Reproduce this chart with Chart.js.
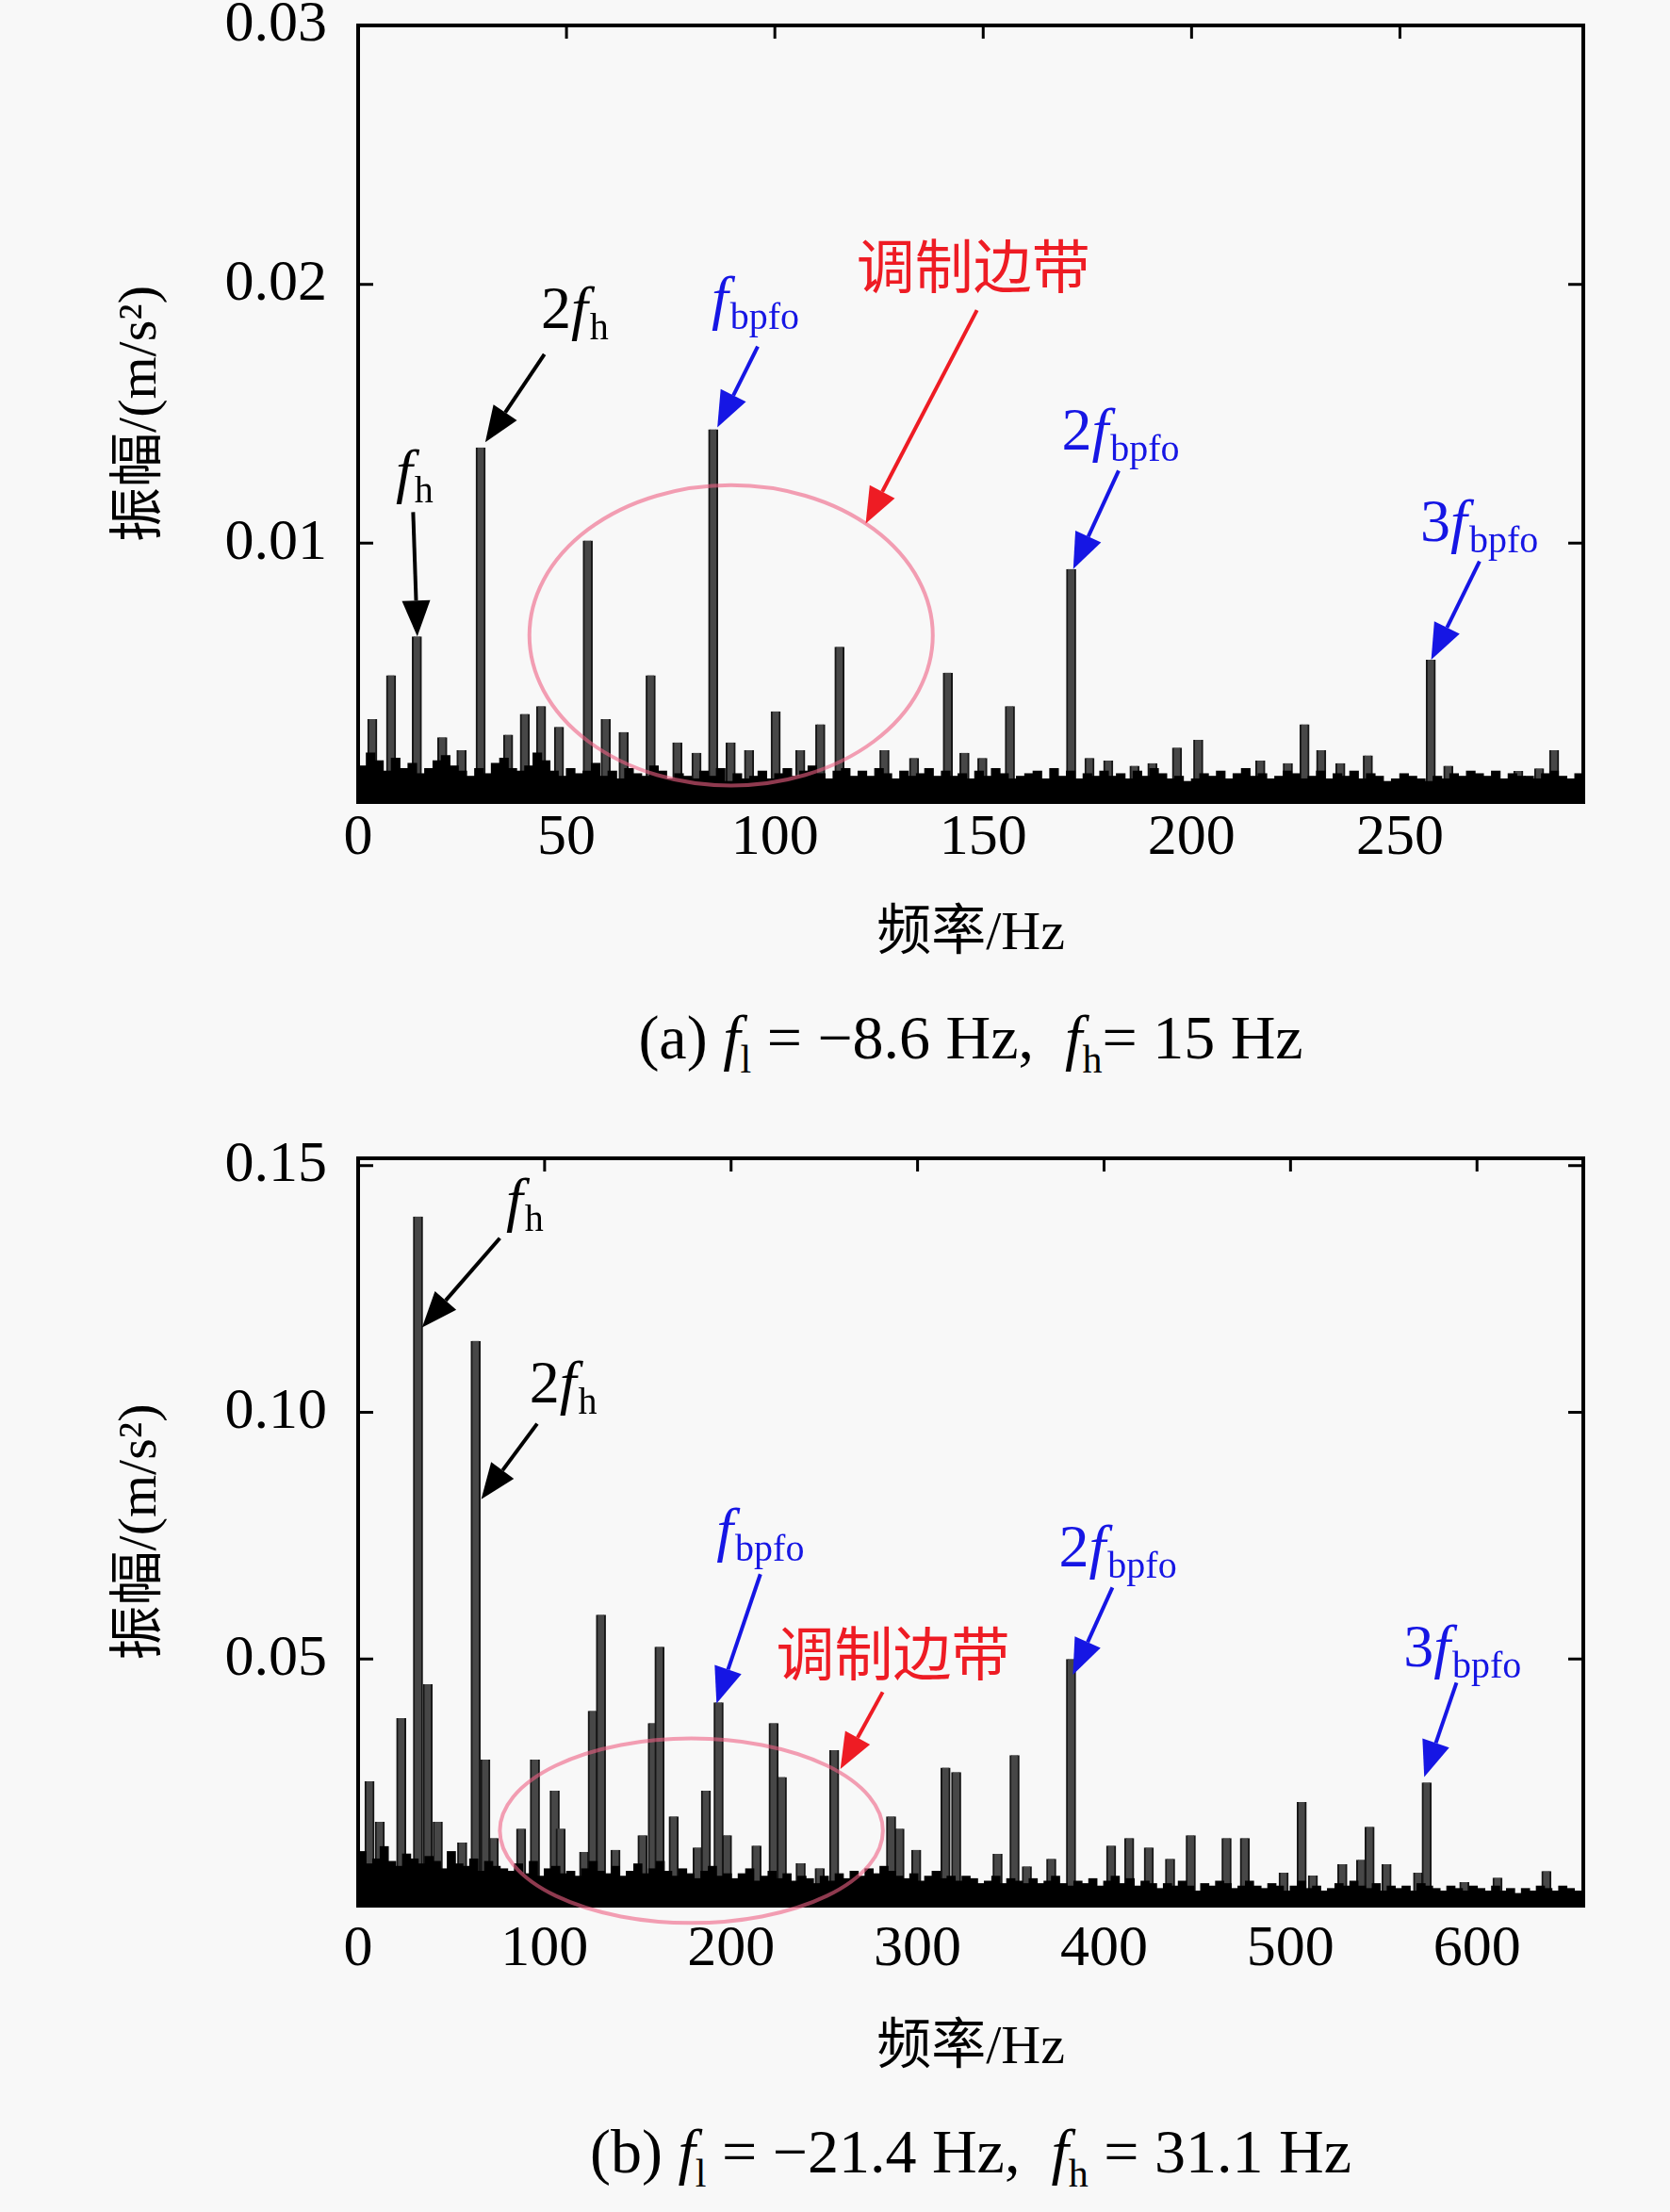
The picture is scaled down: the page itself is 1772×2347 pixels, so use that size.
<!DOCTYPE html>
<html>
<head>
<meta charset="utf-8">
<script src="https://cdn.jsdelivr.net/npm/chart.js@4.4.1/dist/chart.umd.min.js"></script>
<style>
  html, body { margin: 0; padding: 0; background: #f8f8f8; }
  body { width: 1772px; height: 2347px; position: relative; overflow: hidden; }
  canvas { position: absolute; left: 0; }
  .cap { position: absolute; left: 280px; width: 1500px; text-align: center;
         font-family: 'Liberation Serif', serif; font-size: 66px; line-height: 66px; color: #000; white-space: nowrap; }
  .cap .sb { font-size: 42px; position: relative; top: 15px; }
</style>
</head>
<body>
<canvas id="chartA" width="1772" height="1040" style="top:0;width:1772px;height:1040px"></canvas>
<div class="cap" style="top:1068px">(a) <i>f</i><span class="sb">l</span> = −8.6 Hz,&nbsp; <i>f</i><span class="sb">h</span>= 15 Hz</div>
<canvas id="chartB" width="1772" height="1030" style="top:1190px;width:1772px;height:1030px"></canvas>
<div class="cap" style="top:2250px">(b) <i>f</i><span class="sb">l</span> = −21.4 Hz,&nbsp; <i>f</i><span class="sb">h</span> = 31.1 Hz</div>
<script>
// ---- (a) spectrum, f_l = -8.6 Hz, f_h = 15 Hz ----
// noise floor, one value per 2 Hz bin starting at 1 Hz
const floorStartA = 1, floorStepA = 2;
const floorA = [
  0.0014,0.0019,0.0016,0.0012,0.0017,0.0013,0.0015,0.0011,0.0013,0.0016,
  0.0018,0.0014,0.0012,0.0010,0.0013,0.0011,0.0015,0.0017,0.0013,0.0012,
  0.0014,0.0019,0.0016,0.0012,0.0010,0.0013,0.0011,0.0012,0.0015,0.0010,
  0.0012,0.0009,0.0013,0.0011,0.0010,0.0014,0.0012,0.0009,0.0011,0.0010,
  0.0009,0.0012,0.0010,0.0013,0.0008,0.0011,0.0009,0.0010,0.0012,0.0009,
  0.0011,0.0013,0.0010,0.0012,0.0014,0.0011,0.0009,0.0012,0.0013,0.0010,
  0.0012,0.0010,0.0013,0.0011,0.0009,0.0012,0.0010,0.0011,0.0013,0.0010,
  0.0012,0.0010,0.0011,0.0009,0.0012,0.0010,0.0013,0.0011,0.0009,0.0010,
  0.0011,0.0012,0.0009,0.0013,0.0010,0.0012,0.0009,0.0011,0.0010,0.0012,
  0.0010,0.0011,0.0009,0.0012,0.0010,0.0013,0.0011,0.0009,0.0010,0.0008,
  0.0009,0.0011,0.0010,0.0012,0.0009,0.0011,0.0013,0.0010,0.0011,0.0009,
  0.0010,0.0012,0.0011,0.0009,0.0010,0.0012,0.0009,0.0011,0.0010,0.0012,
  0.0009,0.0011,0.0010,0.0008,0.0009,0.0011,0.0010,0.0009,0.0008,0.0010,
  0.0009,0.0011,0.0010,0.0012,0.0011,0.0010,0.0012,0.0009,0.0011,0.0010,
  0.0010,0.0009,0.0011,0.0012,0.0010,0.0009,0.0011
];
// spectral lines
const peakFreqA = [3.4,7.9,14.1,20.2,24.8,29.4,36.0,40.0,43.9,48.2,55.1,59.4,63.7,70.2,76.6,81.2,
  85.2,89.4,93.8,100.2,106.1,110.9,115.5,126.3,133.4,141.5,145.5,149.8,156.4,171.1,175.5,180.0,
  186.3,190.6,196.5,201.6,211.3,216.5,223.1,227.1,231.1,235.7,242.3,257.4,261.6,267.6,278.4,283.4,287.0];
const peakAmpA = [0.0032,0.0049,0.0064,0.0025,0.0020,0.0137,0.0026,0.0034,0.0037,0.0029,0.0101,0.0032,0.0027,0.0049,0.0023,0.0019,
  0.0144,0.0023,0.0020,0.0035,0.0020,0.0030,0.0060,0.0020,0.0017,0.0050,0.0019,0.0017,0.0037,0.0090,0.0017,0.0016,
  0.0014,0.0015,0.0021,0.0024,0.0011,0.0016,0.0015,0.0030,0.0020,0.0015,0.0018,0.0055,0.0014,0.0009,0.0012,0.0013,0.0020];
const xTicksA = { min: 0, max: 294, step: 50 };
const yTicksA = { min: 0, max: 0.03, step: 0.01 };

// ---- (b) spectrum, f_l = -21.4 Hz, f_h = 31.1 Hz ----
const floorStartB = 2, floorStepB = 4;
const floorB = [
  0.0110,0.0085,0.0095,0.0120,0.0090,0.0080,0.0105,0.0095,0.0085,0.0100,
  0.0090,0.0075,0.0110,0.0085,0.0080,0.0095,0.0070,0.0090,0.0080,0.0075,
  0.0070,0.0085,0.0065,0.0090,0.0060,0.0075,0.0080,0.0065,0.0070,0.0060,
  0.0075,0.0090,0.0070,0.0065,0.0080,0.0060,0.0070,0.0085,0.0065,0.0075,
  0.0090,0.0070,0.0060,0.0075,0.0065,0.0055,0.0070,0.0080,0.0060,0.0065,
  0.0055,0.0065,0.0075,0.0050,0.0060,0.0070,0.0055,0.0065,0.0050,0.0060,
  0.0055,0.0045,0.0060,0.0050,0.0065,0.0055,0.0070,0.0060,0.0075,0.0065,
  0.0080,0.0070,0.0060,0.0055,0.0065,0.0050,0.0060,0.0070,0.0055,0.0060,
  0.0050,0.0060,0.0055,0.0045,0.0050,0.0060,0.0045,0.0055,0.0050,0.0045,
  0.0055,0.0045,0.0050,0.0060,0.0045,0.0040,0.0050,0.0045,0.0055,0.0040,
  0.0050,0.0060,0.0045,0.0055,0.0040,0.0050,0.0045,0.0035,0.0045,0.0040,
  0.0050,0.0040,0.0030,0.0045,0.0040,0.0050,0.0045,0.0035,0.0040,0.0050,
  0.0040,0.0035,0.0045,0.0040,0.0030,0.0040,0.0050,0.0035,0.0040,0.0030,
  0.0035,0.0045,0.0040,0.0050,0.0040,0.0035,0.0045,0.0030,0.0040,0.0035,
  0.0040,0.0030,0.0045,0.0040,0.0035,0.0030,0.0040,0.0035,0.0030,0.0040,
  0.0035,0.0030,0.0040,0.0030,0.0035,0.0025,0.0035,0.0030,0.0040,0.0035,
  0.0030,0.0040,0.0035,0.0030
];
const peakFreqB = [6.1,11.6,23.1,32.1,37.3,42.7,55.8,63.0,68.2,72.7,87.4,94.8,105.4,108.6,121.2,125.8,
  130.2,138.0,152.5,158.0,161.6,169.2,182.1,186.5,193.3,197.8,213.6,222.8,227.2,237.3,247.5,255.3,
  285.8,290.3,299.3,315.0,320.7,342.9,352.0,358.6,371.7,382.3,403.8,413.5,424.0,435.4,446.5,465.7,
  475.5,496.3,506.0,512.0,527.8,537.9,542.4,551.5,568.4,573.0,593.2,611.0,637.2];
const peakAmpB = [0.0252,0.0170,0.0380,0.1397,0.0449,0.0170,0.0128,0.1145,0.0296,0.0137,0.0156,0.0296,0.0233,0.0156,0.0109,0.0395,
  0.0590,0.0113,0.0143,0.0370,0.0525,0.0181,0.0118,0.0233,0.0412,0.0143,0.0122,0.0370,0.0261,0.0086,0.0076,0.0315,
  0.0181,0.0156,0.0113,0.0280,0.0271,0.0105,0.0305,0.0080,0.0095,0.0500,0.0122,0.0137,0.0118,0.0095,0.0143,0.0137,
  0.0137,0.0067,0.0210,0.0061,0.0084,0.0093,0.0160,0.0084,0.0067,0.0250,0.0048,0.0057,0.0070];
const xTicksB = { min: 0, max: 657, step: 100 };
const yTicksB = { min: 0, max: 0.1515, step: 0.05 };

// ---- annotations, placed in data units ----
const BLUE = '#1616e4', RED = '#ee1c24', PINK = 'rgba(238,96,132,0.6)';
const notesA = {
  labels: [
    { x: 9.05,  y: 0.0120, color: '#000', parts: [['f','i'],['h','s']] },
    { x: 43.85, y: 0.0183, color: '#000', parts: [['2'],['f','i'],['h','s']] },
    { x: 84.8,  y: 0.0187, color: BLUE,   parts: [['f','i'],['bpfo','s']] },
    { x: 168.8, y: 0.0136, color: BLUE,   parts: [['2'],['f','i'],['bpfo','s']] },
    { x: 254.9, y: 0.0101, color: BLUE,   parts: [['3'],['f','i'],['bpfo','s']] }
  ],
  band: { text: '调制边带', x: 119.6, y: 0.0207 },
  arrows: [
    { from: [13.2, 0.0112], to: [14.2, 0.0064], color: '#000' },
    { from: [44.7, 0.0173], to: [30.5, 0.0139], color: '#000' },
    { from: [95.9, 0.0176], to: [86.2, 0.01447], color: BLUE },
    { from: [148.5, 0.0190], to: [121.8, 0.01076], color: RED },
    { from: [182.5, 0.0128], to: [171.6, 0.0090], color: BLUE },
    { from: [269.1, 0.0093], to: [257.5, 0.0055], color: BLUE }
  ],
  ellipse: { cx: 89.5, cy: 0.00644, rx: 48.4, ry: 0.0058 }
};
const notesB = {
  labels: [
    { x: 79.3,  y: 0.1391, color: '#000', parts: [['f','i'],['h','s']] },
    { x: 91.9,  y: 0.1021, color: '#000', parts: [['2'],['f','i'],['h','s']] },
    { x: 192.2, y: 0.0723, color: BLUE,   parts: [['f','i'],['bpfo','s']] },
    { x: 375.8, y: 0.0687, color: BLUE,   parts: [['2'],['f','i'],['bpfo','s']] },
    { x: 560.6, y: 0.0485, color: BLUE,   parts: [['3'],['f','i'],['bpfo','s']] }
  ],
  band: { text: '调制边带', x: 224.2, y: 0.0511 },
  arrows: [
    { from: [76.0, 0.1353], to: [34.3, 0.1172], color: '#000' },
    { from: [96.0, 0.0977], to: [66.0, 0.0824], color: '#000' },
    { from: [215.7, 0.0672], to: [192.2, 0.0410], color: BLUE },
    { from: [281.3, 0.0433], to: [258.6, 0.0277], color: RED },
    { from: [404.5, 0.0645], to: [383.3, 0.0468], color: BLUE },
    { from: [589.0, 0.0452], to: [571.7, 0.0261], color: BLUE }
  ],
  ellipse: { cx: 178.7, cy: 0.0152, rx: 102.7, ry: 0.0187 }
};

const SERIF = "'Liberation Serif', 'Noto Sans CJK SC', serif";

function arrow(ctx, x0, y0, x1, y1, color) {
  const ang = Math.atan2(y1 - y0, x1 - x0);
  const len = 38, half = 15;
  const bx = x1 - len * Math.cos(ang), by = y1 - len * Math.sin(ang);
  ctx.strokeStyle = color; ctx.fillStyle = color; ctx.lineWidth = 4;
  ctx.beginPath(); ctx.moveTo(x0, y0); ctx.lineTo(bx, by); ctx.stroke();
  ctx.beginPath();
  ctx.moveTo(x1, y1);
  ctx.lineTo(bx + half * Math.sin(ang), by - half * Math.cos(ang));
  ctx.lineTo(bx - half * Math.sin(ang), by + half * Math.cos(ang));
  ctx.closePath(); ctx.fill();
}

function decor(notes) {
  return {
    id: 'decor',
    afterDraw(chart) {
      const { ctx, chartArea: a, scales: { x, y } } = chart;
      ctx.save();
      // frame with inward ticks on all four sides
      ctx.strokeStyle = '#000'; ctx.lineWidth = 4;
      ctx.strokeRect(a.left, a.top, a.right - a.left, a.bottom - a.top);
      ctx.lineWidth = 3;
      ctx.beginPath();
      y.ticks.forEach(t => {
        const py = y.getPixelForValue(t.value);
        ctx.moveTo(a.left, py); ctx.lineTo(a.left + 16, py);
        ctx.moveTo(a.right, py); ctx.lineTo(a.right - 16, py);
      });
      x.ticks.forEach(t => {
        const px = x.getPixelForValue(t.value);
        ctx.moveTo(px, a.bottom); ctx.lineTo(px, a.bottom - 14);
        ctx.moveTo(px, a.top); ctx.lineTo(px, a.top + 14);
      });
      ctx.stroke();

      // modulation sideband ellipse
      const e = notes.ellipse;
      const ecx = x.getPixelForValue(e.cx), ecy = y.getPixelForValue(e.cy);
      ctx.strokeStyle = PINK; ctx.lineWidth = 4;
      ctx.beginPath();
      ctx.ellipse(ecx, ecy, Math.abs(x.getPixelForValue(e.cx + e.rx) - ecx),
                  Math.abs(y.getPixelForValue(e.cy + e.ry) - ecy), 0, 0, Math.PI * 2);
      ctx.stroke();

      notes.arrows.forEach(ar => arrow(ctx,
        x.getPixelForValue(ar.from[0]), y.getPixelForValue(ar.from[1]),
        x.getPixelForValue(ar.to[0]), y.getPixelForValue(ar.to[1]), ar.color));

      ctx.textBaseline = 'alphabetic'; ctx.textAlign = 'left';
      notes.labels.forEach(lb => {
        let px = x.getPixelForValue(lb.x);
        const py = y.getPixelForValue(lb.y);
        ctx.fillStyle = lb.color;
        lb.parts.forEach(([txt, kind]) => {
          if (kind === 's') {
            ctx.font = '40px ' + SERIF;
            ctx.fillText(txt, px + 2, py + 12);
            px += ctx.measureText(txt).width + 2;
          } else {
            ctx.font = (kind === 'i' ? 'italic ' : '') + '64px ' + SERIF;
            ctx.fillText(txt, px, py);
            px += ctx.measureText(txt).width;
          }
        });
      });

      ctx.fillStyle = RED;
      ctx.font = "62px 'Noto Sans CJK SC', sans-serif";
      ctx.textBaseline = 'middle';
      ctx.fillText(notes.band.text, x.getPixelForValue(notes.band.x), y.getPixelForValue(notes.band.y));
      ctx.restore();
    }
  };
}

function makeChart(id, floor, fStart, fStep, floorW, pf, pa, xt, yt, notes, pad, xHeight, xPad, yTitlePad) {
  return new Chart(document.getElementById(id), {
    type: 'bar',
    data: {
      datasets: [
        {
          label: 'floor',
          data: floor.map((v, i) => ({ x: fStart + i * fStep, y: v })),
          backgroundColor: '#000',
          barThickness: floorW,
          grouped: false,
          order: 0
        },
        {
          label: 'lines',
          data: pf.map((f, i) => ({ x: f, y: pa[i] })),
          backgroundColor: '#474747',
          borderColor: '#161616',
          borderWidth: { left: 2, right: 2, top: 0, bottom: 0 },
          borderSkipped: false,
          barThickness: 10,
          grouped: false,
          order: 1
        }
      ]
    },
    options: {
      responsive: false,
      devicePixelRatio: 1,
      animation: false,
      layout: { padding: pad },
      plugins: { legend: { display: false }, tooltip: { enabled: false } },
      scales: {
        x: {
          type: 'linear', min: xt.min, max: xt.max, offset: false,
          grid: { display: false, drawTicks: false }, border: { display: false },
          ticks: { stepSize: xt.step, includeBounds: false, autoSkip: false, maxRotation: 0,
                   padding: xPad, color: '#000', font: { family: SERIF, size: 62 } },
          title: { display: true, text: '频率/Hz', color: '#000',
                   font: { family: SERIF, size: 58 }, padding: { top: 0, bottom: 0 } },
          afterFit: s => { s.height = xHeight; s.paddingLeft = 0; s.paddingRight = 0; }
        },
        y: {
          min: yt.min, max: yt.max,
          grid: { display: false, drawTicks: false }, border: { display: false },
          ticks: { stepSize: yt.step, includeBounds: false, padding: 33, color: '#000',
                   font: { family: SERIF, size: 62 },
                   callback: v => (v === 0 ? '' : v.toFixed(2)) },
          title: { display: true, text: '振幅/(m/s²)', color: '#000',
                   font: { family: SERIF, size: 58 }, padding: { top: yTitlePad, bottom: 0 } },
          afterFit: s => { s.width = 380; s.paddingTop = 0; s.paddingBottom = 0; }
        }
      }
    },
    plugins: [decor(notes)]
  });
}

makeChart('chartA', floorA, floorStartA, floorStepA, 9.5, peakFreqA, peakAmpA, xTicksA, yTicksA, notesA,
  { left: 0, right: 92, top: 27, bottom: 13 }, 176, 2, 115);
makeChart('chartB', floorB, floorStartB, floorStepB, 9, peakFreqB, peakAmpB, xTicksB, yTicksB, notesB,
  { left: 0, right: 92, top: 39, bottom: 11 }, 187, 10, 115);
</script>
</body>
</html>
